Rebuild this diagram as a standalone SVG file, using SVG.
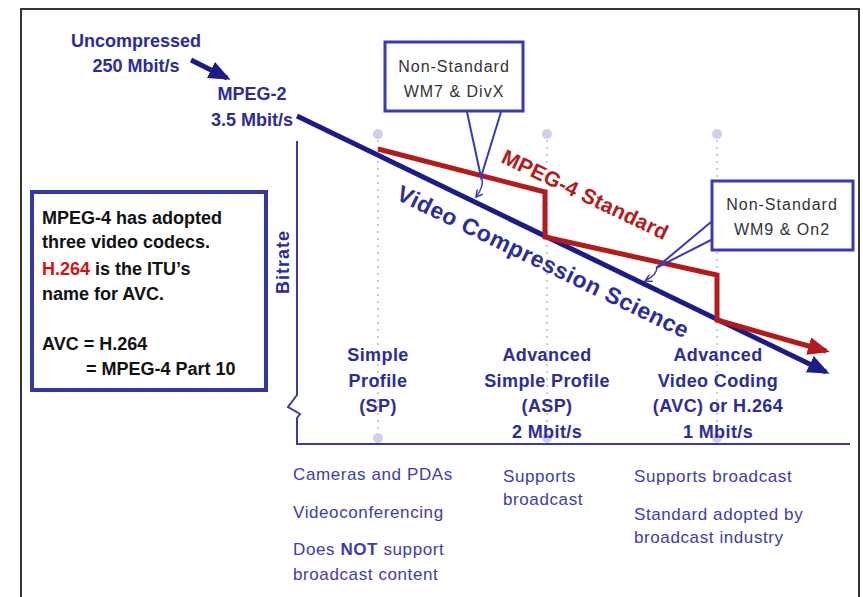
<svg xmlns="http://www.w3.org/2000/svg" width="863" height="597" viewBox="0 0 863 597">
<style>
.bl{font-family:"Liberation Sans",Arial,sans-serif;font-weight:bold;fill:#2c2c9c}
.col{font-size:18px;text-anchor:middle;letter-spacing:0.4px}
.note{font-family:"Liberation Sans",Arial,sans-serif;font-size:17px;fill:#3c3cb0;letter-spacing:0.6px}
.call{font-family:"Liberation Sans",Arial,sans-serif;font-size:16px;fill:#333;letter-spacing:1px;text-anchor:middle}
.box{font-family:"Liberation Sans",Arial,sans-serif;font-size:18px;font-weight:bold;fill:#111}
.dot{stroke:#c9c9e6;stroke-width:2;stroke-dasharray:2 5}
.dc{fill:#cfcfea}
.cbox{fill:#fff;stroke:#3a3ab4;stroke-width:3}
.wedge{fill:none;stroke:#3a3ab4;stroke-width:2}
.axis{fill:none;stroke:#3a3aa8;stroke-width:2}
</style>
<defs>
<marker id="ahB" markerUnits="userSpaceOnUse" markerWidth="22" markerHeight="18" refX="18" refY="9" orient="auto" viewBox="0 0 22 18"><path d="M0,0 L22,9 L0,18 z" fill="#1c1c86"/></marker>
<marker id="ahR" markerUnits="userSpaceOnUse" markerWidth="22" markerHeight="18" refX="18" refY="9" orient="auto" viewBox="0 0 22 18"><path d="M0,0 L22,9 L0,18 z" fill="#b41a1a"/></marker>
<marker id="ahS" markerUnits="userSpaceOnUse" markerWidth="8" markerHeight="8" refX="7" refY="4" orient="auto" viewBox="0 0 8 8"><path d="M0,0 L7,4 L0,8" fill="none" stroke="#3a3ab4" stroke-width="1.5"/></marker>
</defs>
<rect width="863" height="597" fill="#fff"/>
<path d="M21,597 V9 H859 V597" fill="none" stroke="#333" stroke-width="2"/>

<g id="guides">
<line class="dot" x1="378" y1="140" x2="378" y2="432"/>
<line class="dot" x1="547" y1="140" x2="547" y2="432"/>
<line class="dot" x1="717" y1="140" x2="717" y2="432"/>
<circle class="dc" cx="378" cy="134" r="5"/><circle class="dc" cx="547" cy="134" r="5"/><circle class="dc" cx="717" cy="134" r="5"/>
<circle class="dc" cx="378" cy="438" r="5"/><circle class="dc" cx="547" cy="438" r="5"/><circle class="dc" cx="717" cy="438" r="5"/>
</g>

<g id="axis">
<path class="axis" d="M297,141 V395 L288,407 L300,414 L297,418 V444 H850"/>
<text class="bl" font-size="18" letter-spacing="1" text-anchor="middle" transform="translate(289,262) rotate(-90)">Bitrate</text>
</g>

<g id="connectors">
<line x1="191" y1="60" x2="227" y2="78" stroke="#1c1c86" stroke-width="5" marker-end="url(#ahB)"/>
<line x1="297" y1="116" x2="826" y2="372" stroke="#1c1c86" stroke-width="5" marker-end="url(#ahB)"/>
<path d="M378,149 L545,192 L545,237 L717,275 L717,320 L826,351" fill="none" stroke="#b41a1a" stroke-width="5" marker-end="url(#ahR)"/>
<path d="M482,177 q2,10 -6,20" fill="none" stroke="#3a3ab4" stroke-width="1.5" marker-end="url(#ahS)"/>
<path d="M657,267 q0,8 -12,14" fill="none" stroke="#3a3ab4" stroke-width="1.5" marker-end="url(#ahS)"/>
</g>

<g id="uncompressed">
<text class="bl" font-size="18" text-anchor="middle" x="136" y="47">Uncompressed</text>
<text class="bl" font-size="18" text-anchor="middle" x="136" y="72">250 Mbit/s</text>
</g>
<g id="mpeg2">
<text class="bl" font-size="18" text-anchor="middle" x="252" y="100">MPEG-2</text>
<text class="bl" font-size="18" text-anchor="middle" x="252" y="126">3.5 Mbit/s</text>
</g>

<g id="line-labels">
<text class="bl" font-size="21" letter-spacing="0.3" fill="#b41a1a" style="fill:#b41a1a" transform="translate(500,162) rotate(25.5)">MPEG-4 Standard</text>
<text class="bl" font-size="23" letter-spacing="0.5" transform="translate(395,199) rotate(25.8)">Video Compression Science</text>
</g>

<g id="callout-wm7">
<rect class="cbox" x="385" y="42" width="138" height="69"/>
<polyline class="wedge" points="467,112 481,177 501,112"/>
<text class="call" x="454" y="72">Non-Standard</text>
<text class="call" x="454" y="97">WM7 &amp; DivX</text>
</g>

<g id="callout-wm9">
<rect class="cbox" x="712" y="181" width="141" height="69"/>
<polyline class="wedge" points="711,222 656,268 711,240"/>
<text class="call" x="782" y="210">Non-Standard</text>
<text class="call" x="782" y="235">WM9 &amp; On2</text>
</g>

<g id="info-box">
<rect x="32" y="192" width="234" height="198" fill="#fff" stroke="#3535a8" stroke-width="4"/>
<text class="box" x="42" y="224">MPEG-4 has adopted</text>
<text class="box" x="42" y="248">three video codecs.</text>
<text class="box" x="42" y="275"><tspan fill="#d01414">H.264</tspan> is the ITU’s</text>
<text class="box" x="42" y="300">name for AVC.</text>
<text class="box" x="42" y="350">AVC = H.264</text>
<text class="box" x="86" y="375">= MPEG-4 Part 10</text>
</g>

<g id="col-sp">
<text class="bl col" x="378" y="361">Simple</text>
<text class="bl col" x="378" y="387">Profile</text>
<text class="bl col" x="378" y="412">(SP)</text>
</g>
<g id="col-asp">
<text class="bl col" x="547" y="361">Advanced</text>
<text class="bl col" x="547" y="387">Simple Profile</text>
<text class="bl col" x="547" y="412">(ASP)</text>
<text class="bl col" x="547" y="438">2 Mbit/s</text>
</g>
<g id="col-avc">
<text class="bl col" x="718" y="361">Advanced</text>
<text class="bl col" x="718" y="387">Video Coding</text>
<text class="bl col" x="718" y="412">(AVC) or H.264</text>
<text class="bl col" x="718" y="438">1 Mbit/s</text>
</g>

<g id="notes-sp">
<text class="note" x="293" y="480">Cameras and PDAs</text>
<text class="note" x="293" y="518">Videoconferencing</text>
<text class="note" x="293" y="555">Does <tspan font-weight="bold">NOT</tspan> support</text>
<text class="note" x="293" y="580">broadcast content</text>
</g>
<g id="notes-asp">
<text class="note" x="503" y="482">Supports</text>
<text class="note" x="503" y="505">broadcast</text>
</g>
<g id="notes-avc">
<text class="note" x="634" y="482">Supports broadcast</text>
<text class="note" x="634" y="520">Standard adopted by</text>
<text class="note" x="634" y="543">broadcast industry</text>
</g>
</svg>
